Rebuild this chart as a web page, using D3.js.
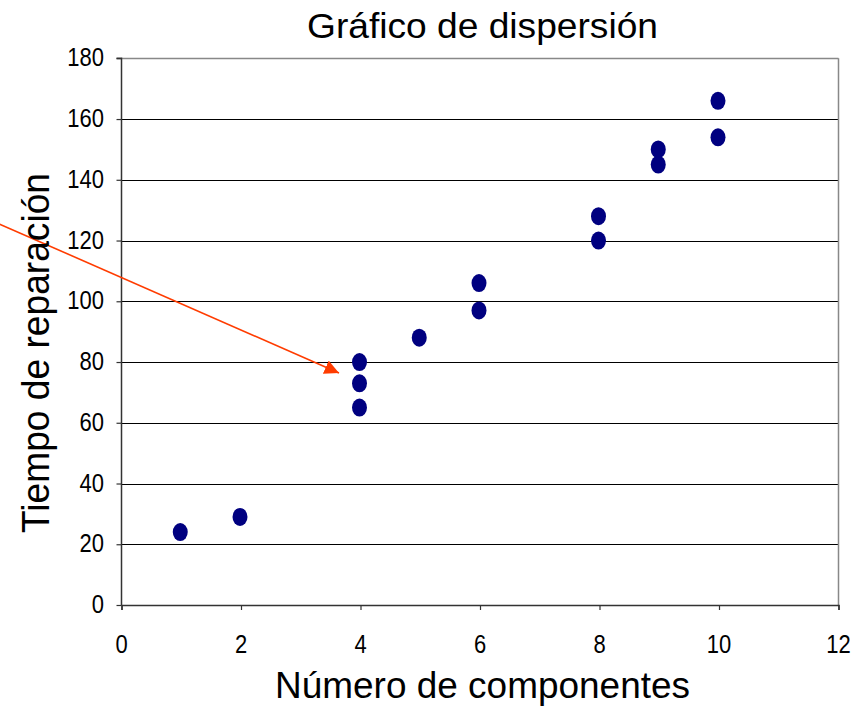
<!DOCTYPE html>
<html>
<head>
<meta charset="utf-8">
<script src="https://cdn.jsdelivr.net/npm/d3@7"></script>
<style>
  body { margin: 0; background: #fff; }
  svg { display: block; }
  text { font-family: "Liberation Sans", Arial, sans-serif; fill: #000; }
</style>
</head>
<body>
<svg id="chart" width="859" height="719"></svg>
<script>
// Repair data: number of components vs repair time
const componentes = [1, 2, 4, 4, 4, 5, 6, 6, 8, 8, 9, 9, 10, 10];
const tiempos     = [24, 29, 80, 73, 65, 88, 106, 97, 128, 120, 150, 145, 166, 154];
const xTicks = [0, 2, 4, 6, 8, 10, 12];
const yTicks = [0, 20, 40, 60, 80, 100, 120, 140, 160, 180];
// Annotation arrow, in data units (start, tip)
const flecha = [[-2.05, 125.5], [3.64, 76.4]];

const svg = d3.select("#chart");
const x = d3.scaleLinear().domain([0, 12]).range([121.5, 838.5]);
const y = d3.scaleLinear().domain([0, 180]).range([605, 58.3]);

// Horizontal gridlines
svg.append("g").selectAll("line").data(yTicks.filter(d => d > 0)).join("line")
  .attr("x1", x(0)).attr("x2", x(12))
  .attr("y1", d => Math.round(y(d)) + 0.5).attr("y2", d => Math.round(y(d)) + 0.5)
  .attr("stroke", d => d === 180 ? "#888" : "#000").attr("stroke-width", d => d === 180 ? 1.5 : 1);

// Right border of plot area
svg.append("line")
  .attr("x1", x(12)).attr("x2", x(12)).attr("y1", y(180)).attr("y2", y(0))
  .attr("stroke", "#888").attr("stroke-width", 1.5);

// Axes (labels drawn separately, slightly tall-condensed)
const yAxis = svg.append("g").attr("transform", `translate(${x(0)},0)`)
  .call(d3.axisLeft(y).tickValues(yTicks).tickSize(5).tickFormat(""));
const xAxis = svg.append("g").attr("transform", `translate(0,${y(0)})`)
  .call(d3.axisBottom(x).tickValues(xTicks).tickSize(5).tickFormat(""));
[yAxis, xAxis].forEach(g => {
  g.select(".domain").attr("stroke", "#333").attr("stroke-width", 1.5);
  g.selectAll(".tick line").attr("stroke", "#333").attr("stroke-width", 1.2);
});
yAxis.select(".domain").attr("d", `M-5,${y(180)}H0V${y(0)}`);

const tickFont = 22, stretch = 1.18;
svg.append("g").selectAll("text").data(yTicks).join("text")
  .attr("transform", d => `translate(104,${y(d) + 8}) scale(1,${stretch})`)
  .attr("text-anchor", "end").attr("font-size", tickFont)
  .text(d => d);
svg.append("g").selectAll("text").data(xTicks).join("text")
  .attr("transform", d => `translate(${x(d)},653) scale(1,${stretch})`)
  .attr("text-anchor", "middle").attr("font-size", tickFont)
  .text(d => d);

// Points
svg.append("g").selectAll("ellipse").data(componentes).join("ellipse")
  .attr("cx", (d) => x(d) - 1)
  .attr("cy", (d, i) => y(tiempos[i]))
  .attr("rx", 7.5).attr("ry", 9)
  .attr("fill", "#000080");

// Arrow annotation
svg.append("defs").append("marker")
  .attr("id", "punta").attr("viewBox", "0 0 10 10")
  .attr("refX", 10).attr("refY", 5)
  .attr("markerWidth", 9).attr("markerHeight", 9)
  .attr("markerUnits", "strokeWidth").attr("orient", "auto")
  .append("path").attr("d", "M0,0L10,5L0,10Z").attr("fill", "#ff3c00");
svg.append("line")
  .attr("x1", x(flecha[0][0])).attr("y1", y(flecha[0][1]))
  .attr("x2", x(flecha[1][0])).attr("y2", y(flecha[1][1]))
  .attr("stroke", "#ff3c00").attr("stroke-width", 1.6)
  .attr("marker-end", "url(#punta)");

// Titles
svg.append("text").attr("x", 307).attr("y", 37.5)
  .attr("font-size", 35).attr("textLength", 351).attr("lengthAdjust", "spacingAndGlyphs")
  .text("Gráfico de dispersión");
svg.append("text").attr("x", 275).attr("y", 698)
  .attr("font-size", 36).attr("textLength", 415).attr("lengthAdjust", "spacingAndGlyphs")
  .text("Número de componentes");
svg.append("text").attr("transform", "translate(49,533) rotate(-90)")
  .attr("font-size", 38).attr("textLength", 360).attr("lengthAdjust", "spacingAndGlyphs")
  .text("Tiempo de reparación");
</script>
</body>
</html>
